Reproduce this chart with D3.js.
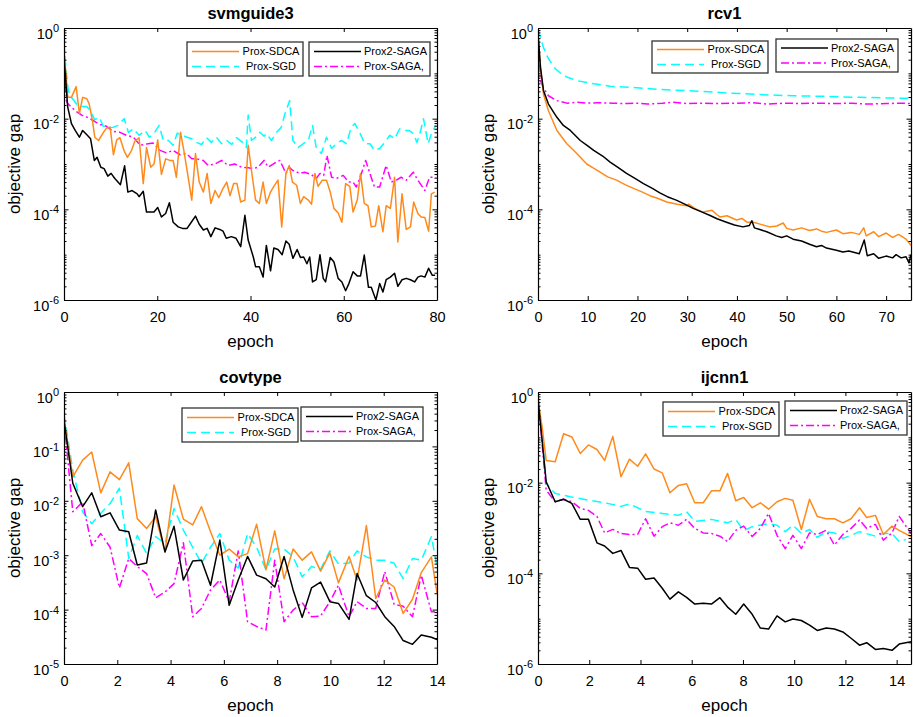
<!DOCTYPE html>
<html><head><meta charset="utf-8">
<script src="https://cdn.jsdelivr.net/npm/d3@7"></script>
<style>
body{margin:0;background:#fff;}
svg{font-family:"Liberation Sans",Arial,sans-serif;}
</style></head>
<body>
<svg id="chart" width="914" height="717"></svg>
<script>
// ---------------- DATA ----------------
const seriesNames = ["Prox-SDCA", "Prox-SGD", "Prox2-SAGA", "Prox-SAGA,"];
const panelTitles = ["svmguide3", "rcv1", "covtype", "ijcnn1"];
const xLabel = "epoch";
const yLabel = "objective gap";

// svmguide3 : [epoch, objective gap]
const svmSDCA = [[0,0.32],[0.4,0.105],[0.8,2.95e-2],[1.6,2.95e-2],[2.6,5.1e-2],[3.3,1.3e-2],[4,2.95e-2],[4.9,2.75e-2],[5.4,2.1e-2],[6.1,9.1e-3],[6.6,3.9e-3],[7.4,3.3e-3],[8.3,4.7e-3],[9.1,6.2e-3],[9.9,6.5e-3],[10.6,1.6e-3],[11.3,3.4e-3],[12,3.8e-3],[12.9,1.95e-3],[13.6,1.4e-3],[14.5,2.0e-3],[15.2,3.2e-3],[16.1,3.8e-3],[17,3.7e-4],[17.7,2.3e-3],[18.6,8.5e-4],[19.3,1.0e-3],[20.1,3.4e-3],[20.9,5.9e-4],[21.8,1.3e-3],[22.7,1.2e-3],[23.4,1.2e-3],[24.1,5.1e-4],[25,5.0e-3],[25.7,2.0e-3],[26.5,6.2e-4],[27.4,1.6e-4],[28.2,1.7e-3],[29,4.0e-4],[29.9,2.4e-4],[30.7,6.2e-4],[31.5,1.35e-4],[32.4,2.6e-4],[33.2,1.8e-4],[34,2.75e-4],[34.9,4.0e-4],[35.6,2.0e-4],[36.4,3.7e-4],[37.1,3.7e-4],[37.9,1.45e-4],[38.8,1.6e-4],[39.5,2.6e-3],[40.4,5.1e-4],[41.1,1.6e-4],[41.9,1.35e-4],[42.7,4.0e-4],[43.4,1.35e-4],[44.3,2.4e-4],[45,3.2e-4],[45.9,4.4e-4],[46.7,4.1e-5],[47.6,6.2e-4],[48.3,9.3e-4],[49,4.0e-4],[49.9,3.4e-4],[50.7,1.35e-4],[51.4,1.9e-4],[52.4,1.6e-4],[53.1,1.3e-4],[53.8,6.2e-4],[54.5,3.2e-4],[55.4,4.4e-4],[56.3,4.4e-4],[57.1,2.4e-4],[57.9,1.05e-4],[58.8,8.3e-5],[59.6,5.2e-5],[60.4,3.7e-4],[61.3,3.2e-4],[62,8.7e-5],[62.9,1.6e-4],[63.6,6.2e-4],[64.4,1.35e-4],[65.2,1.2e-4],[65.9,4.1e-5],[66.8,4.3e-5],[67.5,1.2e-4],[68.4,3.2e-5],[69.1,1.2e-4],[70,1.05e-4],[70.9,5.1e-4],[71.6,1.9e-5],[72.5,2.2e-4],[73.4,3.6e-5],[74.3,4.1e-5],[75,1.45e-4],[75.9,8.1e-5],[76.6,6.8e-5],[77.4,6.6e-5],[78.2,3.3e-5],[78.8,2.2e-4],[79.5,2.4e-4]];
const svmSGD = [[0,0.48],[0.4,0.135],[0.9,4.2e-2],[1.6,2.95e-2],[2.7,2.1e-2],[3.8,1.85e-2],[4.9,1.85e-2],[5.6,1.5e-2],[6.6,9.5e-3],[7.6,1.07e-2],[8.4,6.8e-3],[9.5,6.3e-3],[10.6,6.5e-3],[11.6,7.1e-3],[12.9,1.0e-2],[13.8,5.0e-3],[14.9,6.0e-3],[16.1,4.3e-3],[17.4,5.5e-3],[18.3,3.9e-3],[19.3,4.7e-3],[20.4,7.1e-3],[21.3,3.3e-3],[22.4,3.3e-3],[23.4,2.6e-3],[24.3,4.8e-3],[25.4,4.3e-3],[26.4,3.9e-3],[27.4,3.6e-3],[28.4,3.0e-3],[29.5,2.7e-3],[30.6,3.8e-3],[31.6,3.0e-3],[32.7,3.9e-3],[33.8,2.8e-3],[34.9,3.3e-3],[36,2.7e-3],[37,3.8e-3],[38.3,3.0e-3],[39.1,2.3e-3],[39.5,1.2e-2],[40.2,3.3e-3],[41.1,3.9e-3],[42,5.0e-3],[42.9,4.1e-3],[43.4,4.7e-3],[44.5,3.3e-3],[45.6,5.0e-3],[46.6,6.5e-3],[47.4,1.3e-2],[48.4,2.5e-2],[49.1,3.3e-3],[50.2,2.3e-3],[51.3,2.8e-3],[52.4,3.3e-3],[53.3,7.1e-3],[54.1,2.3e-3],[55.2,1.7e-3],[56.3,3.9e-3],[57.4,2.2e-3],[58.4,2.8e-3],[59.5,3.3e-3],[60.6,2.8e-3],[61.6,6.5e-3],[62.4,7.8e-3],[63.4,5.0e-3],[64.5,2.8e-3],[65.6,2.8e-3],[66.6,2.0e-3],[67.7,2.2e-3],[68.8,3.0e-3],[69.9,4.3e-3],[70.9,3.6e-3],[72,6.0e-3],[73.1,5.5e-3],[74,5.5e-3],[74.9,4.7e-3],[75.7,3.0e-3],[76.4,5.0e-3],[77.1,1.0e-2],[78.1,2.8e-3],[78.8,4.7e-3],[79.7,7.1e-3]];
const svmSAGA2 = [[0,0.22],[0.8,1.8e-2],[1.6,7.8e-3],[2.4,5.5e-3],[3.3,3.9e-3],[4,5.5e-3],[5,4.3e-3],[5.7,3.6e-3],[6.5,1.2e-3],[7.1,1.4e-3],[7.9,8.5e-4],[8.6,7.9e-4],[9.4,5.4e-4],[10.1,6.2e-4],[10.9,4.8e-4],[12.1,3.5e-4],[13,9.1e-4],[13.7,2.4e-4],[14.6,2.6e-4],[15.7,2.2e-4],[16.1,1.9e-4],[17,2.5e-4],[17.7,8.7e-5],[19.3,8.7e-5],[20.1,1.1e-4],[20.9,6.8e-5],[21.8,8.1e-5],[22.6,1.4e-4],[23.4,5.2e-5],[24.5,4.1e-5],[25.4,3.8e-5],[26.4,3.8e-5],[27.3,5.2e-5],[28.2,7.1e-5],[29,4.7e-5],[29.9,3.5e-5],[30.7,3.8e-5],[31.5,2.5e-5],[32.4,3.9e-5],[33.4,3.6e-5],[34.1,3.3e-5],[34.8,2.3e-5],[35.9,2.5e-5],[36.9,2.3e-5],[37.9,1.5e-5],[38.8,7.4e-5],[39.5,2.1e-5],[40.6,8.9e-6],[41.1,5.4e-6],[41.9,5.4e-6],[42.7,3.2e-6],[43.4,1.6e-5],[44.3,4.4e-6],[45,1.4e-5],[45.9,1.3e-5],[46.8,1.0e-5],[47.6,2.0e-5],[48.3,1.7e-5],[49.1,8.3e-6],[50,1.3e-5],[50.7,8.7e-6],[51.4,8.9e-6],[52.1,6.3e-6],[52.7,8.9e-6],[53.3,2.5e-6],[54.1,2.8e-6],[54.9,1.0e-5],[55.6,3.0e-6],[56.1,2.5e-6],[57.1,8.7e-6],[57.9,6.9e-6],[58.8,3.0e-6],[59.6,2.5e-6],[60.4,1.6e-6],[61.1,2.3e-6],[62,4.2e-6],[62.9,3.4e-6],[63.6,3.4e-6],[64.4,9.8e-6],[65.3,1.9e-6],[65.9,1.9e-6],[66.9,1.0e-6],[67.7,2.3e-6],[68.4,1.5e-6],[69.1,2.8e-6],[70,3.2e-6],[70.9,3.9e-6],[71.6,2.0e-6],[72.5,2.8e-6],[73.4,3.0e-6],[74.3,2.8e-6],[75.2,2.5e-6],[75.9,3.2e-6],[76.6,3.4e-6],[77.4,3.2e-6],[78.2,5.0e-6],[79,3.5e-6],[79.6,3.5e-6]];
const svmSAGA = [[0,0.3],[0.5,2.5e-2],[0.9,2.1e-2],[2.4,1.5e-2],[3.8,1.2e-2],[5,1.07e-2],[6.3,9.1e-3],[7.7,7.4e-3],[9.1,6.8e-3],[10.6,5.2e-3],[12,5.0e-3],[13.4,4.3e-3],[14.9,3.9e-3],[16.3,2.6e-3],[17.7,2.75e-3],[19.1,2.9e-3],[20.6,2.0e-3],[22,1.75e-3],[23.4,2.0e-3],[24.9,1.6e-3],[26.3,1.7e-3],[27.4,1.3e-3],[28.4,1.3e-3],[29.9,1.2e-3],[30.9,9.3e-4],[32.4,1.0e-3],[33.8,1.2e-3],[35.2,9.3e-4],[36.6,1.0e-3],[38.1,8.5e-4],[39.5,8.3e-4],[40.6,7.9e-4],[41.6,8.5e-4],[42.9,1.2e-3],[43.8,8.5e-4],[45.2,1.05e-3],[46.3,1.2e-3],[47.6,6.2e-4],[48.3,8.5e-4],[49.1,7.2e-4],[50.6,6.2e-4],[51.6,6.6e-4],[53,5.9e-4],[54.1,4.8e-4],[54.9,6.2e-4],[55.7,5.6e-4],[56.4,1.55e-3],[57.4,5.1e-4],[58.4,4.8e-4],[59.9,5.6e-4],[61,4.0e-4],[62,4.0e-4],[62.7,3.1e-4],[63.8,6.2e-4],[64.7,1.2e-3],[65.6,6.2e-4],[66.6,3.1e-4],[67.7,3.1e-4],[69.1,9.3e-4],[70.2,4.0e-4],[71.3,4.4e-4],[72.3,5.1e-4],[73.4,4.4e-4],[74.9,6.6e-4],[75.9,4.4e-4],[77.4,2.6e-4],[78.4,5.1e-4],[79.7,5.1e-4]];

// rcv1
const rcvSDCA = [[0,0.74],[0.5,0.135],[1.1,3.5e-2],[2.1,1.5e-2],[3.8,5.5e-3],[5.8,2.8e-3],[7.8,1.7e-3],[9.8,1.0e-3],[11,8.3e-4],[12.5,6.6e-4],[14,5.2e-4],[15.8,4.4e-4],[17.5,3.5e-4],[19.2,2.9e-4],[21,2.4e-4],[22.5,2.0e-4],[24,1.75e-4],[25.9,1.45e-4],[28,1.3e-4],[29.9,1.2e-4],[30.3,1.3e-4],[31.5,1.05e-4],[33.2,8.7e-5],[35,9.5e-5],[36,7.6e-5],[36.6,6.8e-5],[38,7.2e-5],[39.9,5.8e-5],[41,6.3e-5],[42,5.2e-5],[43.3,5.2e-5],[45,4.6e-5],[46.6,4.1e-5],[48,4.3e-5],[49.3,5.0e-5],[50,3.8e-5],[51.3,3.5e-5],[53,3.9e-5],[54.6,3.4e-5],[56,3.7e-5],[57,3.3e-5],[58,3.1e-5],[60,3.5e-5],[61.3,2.9e-5],[63,3.1e-5],[64.6,2.8e-5],[65.5,3.9e-5],[66,2.6e-5],[67.5,3.2e-5],[68.5,2.5e-5],[70,3.0e-5],[71.3,2.4e-5],[72.5,2.8e-5],[74,2.2e-5],[75,1.6e-5]];
const rcvSGD = [[0,0.95],[1.1,0.37],[2.1,0.21],[3.5,0.126],[5.1,8.9e-2],[7.8,6.9e-2],[11.2,5.9e-2],[14.5,5.2e-2],[19.9,4.8e-2],[24.5,4.4e-2],[31.2,4.1e-2],[37.9,3.7e-2],[44.6,3.4e-2],[51.3,3.2e-2],[58,3.1e-2],[64.6,2.95e-2],[75,2.8e-2]];
const rcvSAGA2 = [[0,0.74],[0.5,0.135],[1.1,4.2e-2],[2.1,2.1e-2],[3.8,1.07e-2],[5.1,7.1e-3],[6.5,5.5e-3],[8.5,3.3e-3],[10,2.5e-3],[11.2,2.0e-3],[13,1.5e-3],[14.5,1.1e-3],[16,8.5e-4],[17.8,6.2e-4],[19.5,4.8e-4],[21.2,3.7e-4],[23,2.9e-4],[24.5,2.3e-4],[26,1.9e-4],[27.8,1.6e-4],[29.5,1.3e-4],[31.2,1.05e-4],[33,8.7e-5],[34.5,7.4e-5],[36,6.2e-5],[37.9,5.2e-5],[39.5,4.5e-5],[41.2,4.1e-5],[42.5,4.4e-5],[43,5.6e-5],[43.5,3.9e-5],[44.6,3.6e-5],[46,3.2e-5],[47.9,2.6e-5],[49,2.4e-5],[50,2.6e-5],[51.3,2.2e-5],[53,2.0e-5],[54.6,1.7e-5],[56,1.5e-5],[57,1.6e-5],[58,1.4e-5],[60,1.25e-5],[61.3,1.15e-5],[62.5,1.2e-5],[64.6,1.05e-5],[65.6,2.1e-5],[66.2,9.5e-6],[67.5,1.05e-5],[68.5,8.3e-6],[70,9.3e-6],[71.3,8.5e-6],[72,1.0e-5],[73,8.5e-6],[74,9.0e-6],[74.6,6.6e-6],[75,1.0e-5]];
const rcvSAGA = [[0,0.8],[0.5,6.9e-2],[1.1,4.8e-2],[2.1,3.2e-2],[3.8,2.5e-2],[5.8,2.2e-2],[7.8,2.3e-2],[10,2.2e-2],[12,2.25e-2],[15,2.2e-2],[18,2.15e-2],[20,2.2e-2],[22,2.1e-2],[25,2.2e-2],[27,2.3e-2],[30,2.15e-2],[33,2.2e-2],[36,2.15e-2],[40,2.2e-2],[43,2.25e-2],[46,2.1e-2],[50,2.2e-2],[53,2.15e-2],[56,2.2e-2],[60,2.15e-2],[63,2.2e-2],[66,2.1e-2],[70,2.15e-2],[73,2.2e-2],[75,2.15e-2]];

// covtype
const covSDCA = [[0,0.32],[0.33,2.75e-2],[0.7,5.6e-2],[1.04,7.9e-2],[1.38,1.4e-2],[1.73,3.4e-2],[2.08,2.45e-2],[2.43,5.0e-2],[2.75,4.7e-3],[3.1,3.1e-3],[3.44,5.1e-3],[3.79,1.15e-3],[4.13,1.95e-2],[4.48,4.6e-3],[4.83,3.6e-3],[5.16,7.8e-3],[5.5,2.7e-3],[5.85,1.0e-3],[6.2,1.3e-3],[6.54,9.3e-4],[6.89,1.07e-3],[7.23,3.7e-3],[7.58,5.4e-4],[7.91,2.8e-3],[8.26,3.7e-4],[8.6,1.3e-3],[8.94,8.1e-4],[9.29,1.15e-3],[9.63,5.1e-4],[9.98,1.1e-3],[10.3,3.1e-4],[10.7,9.5e-4],[11,3.5e-4],[11.35,3.5e-3],[11.7,1.6e-4],[12.04,3.5e-4],[12.39,2.6e-4],[12.73,8.5e-5],[13.08,1.55e-4],[13.41,4.8e-4],[13.79,9.3e-4],[14,2.0e-4]];
const covSGD = [[0,0.4],[0.33,3.6e-2],[0.7,6.3e-3],[1.04,3.8e-3],[1.38,5.9e-3],[1.73,8.9e-3],[2.08,1.7e-2],[2.43,8.7e-4],[2.75,2.3e-3],[3.1,1.07e-3],[3.44,2.2e-3],[3.79,1.65e-3],[4.13,7.2e-3],[4.48,2.9e-3],[4.83,1.4e-3],[5.16,7.1e-4],[5.5,1.4e-3],[5.85,2.5e-3],[6.2,8.1e-4],[6.54,5.8e-4],[6.89,2.5e-3],[7.23,1.4e-3],[7.58,5.4e-4],[7.91,1.3e-3],[8.26,1.3e-3],[8.6,9.3e-4],[8.94,4.0e-4],[9.29,6.2e-4],[9.63,5.5e-4],[9.98,1.2e-3],[10.3,6.9e-4],[10.7,7.2e-4],[11,1.2e-3],[11.35,9.3e-4],[11.7,8.1e-4],[12.04,8.1e-4],[12.39,7.1e-4],[12.73,3.7e-4],[13.08,8.7e-4],[13.41,8.1e-4],[13.79,2.2e-3],[14,6.2e-4]];
const covSAGA2 = [[0,0.3],[0.33,2.1e-2],[0.7,7.8e-3],[1.04,1.4e-2],[1.38,5.1e-3],[1.73,6.0e-3],[2.08,2.9e-3],[2.43,2.7e-3],[2.75,6.6e-4],[3.1,7.2e-4],[3.44,6.8e-3],[3.79,1.15e-3],[4.13,3.4e-3],[4.48,3.5e-4],[4.83,7.8e-4],[5.16,8.1e-4],[5.5,2.8e-4],[5.85,1.9e-3],[6.2,1.2e-4],[6.54,3.5e-4],[6.89,9.5e-4],[7.23,4.3e-4],[7.58,3.7e-4],[7.91,2.6e-4],[8.26,9.5e-4],[8.6,2.3e-4],[8.94,7.2e-5],[9.29,2.5e-4],[9.63,3.2e-4],[9.98,1.4e-4],[10.3,1.3e-4],[10.7,6.6e-5],[11,4.6e-4],[11.35,1.8e-4],[11.7,1.35e-4],[12.04,7.4e-5],[12.39,4.9e-5],[12.73,2.7e-5],[13.08,2.3e-5],[13.41,3.4e-5],[13.79,3.1e-5],[14,2.8e-5]];
const covSAGA = [[0,0.3],[0.33,6.3e-3],[0.7,9.5e-3],[1.04,1.5e-3],[1.38,2.5e-3],[1.73,1.4e-3],[2.08,2.5e-4],[2.43,8.7e-4],[2.75,6.2e-4],[3.1,4.6e-4],[3.44,1.65e-4],[3.79,2.1e-4],[4.13,3.0e-4],[4.48,1.7e-3],[4.83,7.4e-5],[5.16,1.05e-4],[5.5,2.3e-4],[5.85,3.5e-4],[6.2,1.4e-4],[6.54,1.2e-3],[6.89,6.0e-5],[7.23,4.9e-5],[7.58,4.2e-5],[7.91,8.1e-4],[8.26,6.0e-5],[8.6,9.8e-5],[8.94,1.35e-4],[9.29,7.4e-5],[9.63,7.6e-5],[9.98,1.4e-4],[10.3,2.8e-4],[10.7,7.4e-5],[11,1.4e-4],[11.35,1.05e-4],[11.7,1.05e-4],[12.04,5.0e-4],[12.39,1.25e-4],[12.73,1.15e-4],[13.08,7.4e-5],[13.41,4.3e-4],[13.79,9.1e-5],[14,9.1e-5]];

// ijcnn1
const ijcSDCA = [[0,0.66],[0.16,0.17],[0.32,3.1e-2],[0.67,2.9e-2],[1.0,0.12],[1.32,0.102],[1.65,4.4e-2],[1.97,6.8e-2],[2.3,5.4e-2],[2.6,3.1e-2],[2.92,0.105],[3.24,1.35e-2],[3.57,3.3e-2],[3.89,2.3e-2],[4.2,4.3e-2],[4.53,2.0e-2],[4.85,1.65e-2],[5.15,6.0e-3],[5.48,8.7e-3],[5.8,9.5e-3],[6.12,3.6e-3],[6.45,3.6e-3],[6.77,6.6e-3],[7.1,6.6e-3],[7.4,1.6e-2],[7.72,4.0e-3],[8.03,4.7e-3],[8.36,2.8e-3],[8.68,3.6e-3],[9.0,2.6e-3],[9.33,3.8e-3],[9.65,4.5e-3],[9.95,4.1e-3],[10.28,9.3e-4],[10.6,4.3e-3],[10.9,1.8e-3],[11.25,1.6e-3],[11.57,1.6e-3],[11.9,1.3e-3],[12.22,1.6e-3],[12.55,2.8e-3],[12.83,1.7e-3],[13.17,1.9e-3],[13.48,7.2e-4],[13.82,1.1e-3],[14.1,8.9e-4],[14.56,6.5e-4]];
const ijcSGD = [[0,0.85],[0.16,0.102],[0.32,9.5e-3],[0.67,5.8e-3],[1.26,4.9e-3],[1.97,4.1e-3],[2.6,3.6e-3],[3.24,3.0e-3],[3.57,3.4e-3],[4.2,2.3e-3],[4.85,2.1e-3],[5.48,1.9e-3],[5.8,2.3e-3],[6.12,1.4e-3],[6.77,1.55e-3],[7.4,1.3e-3],[7.72,1.55e-3],[8.03,8.7e-4],[8.36,1.07e-3],[9.0,1.25e-3],[9.33,1.15e-3],[9.65,8.3e-4],[9.95,1.15e-3],[10.28,7.6e-4],[10.6,9.3e-4],[10.9,6.2e-4],[11.25,8.3e-4],[11.57,7.8e-4],[11.9,5.9e-4],[12.22,6.9e-4],[12.55,8.3e-4],[13.17,6.6e-4],[13.48,7.6e-4],[13.82,7.6e-4],[14.1,5.0e-4],[14.36,5.6e-4]];
const ijcSAGA2 = [[0,0.66],[0.16,8.7e-2],[0.32,1.05e-2],[0.67,3.8e-3],[1.0,4.3e-3],[1.32,3.5e-3],[1.65,1.55e-3],[1.97,1.55e-3],[2.3,4.7e-4],[2.6,4.0e-4],[2.92,2.75e-4],[3.24,3.2e-4],[3.57,1.35e-4],[3.89,1.3e-4],[4.2,7.4e-5],[4.53,7.9e-5],[4.85,4.7e-5],[5.15,2.7e-5],[5.48,3.9e-5],[5.8,2.95e-5],[6.12,2.1e-5],[6.45,2.2e-5],[6.77,2.1e-5],[7.1,2.9e-5],[7.4,1.8e-5],[7.72,1.25e-5],[8.03,2.1e-5],[8.36,1.25e-5],[8.68,6.2e-6],[9.0,5.9e-6],[9.33,1.15e-5],[9.65,8.5e-6],[9.95,9.8e-6],[10.28,9.1e-6],[10.6,7.2e-6],[10.9,5.5e-6],[11.25,6.2e-6],[11.57,5.9e-6],[11.9,5.1e-6],[12.22,3.7e-6],[12.55,2.6e-6],[12.83,2.95e-6],[13.17,2.1e-6],[13.48,2.2e-6],[13.82,2.0e-6],[14.1,2.75e-6],[14.56,3.1e-6]];
const ijcSAGA = [[0,0.78],[0.16,7.2e-2],[0.32,6.8e-3],[0.67,3.8e-3],[1.0,4.3e-3],[1.32,3.8e-3],[1.65,2.7e-3],[1.97,2.45e-3],[2.3,1.8e-3],[2.6,7.8e-4],[2.92,9.3e-4],[3.24,7.6e-4],[3.57,7.2e-4],[3.89,7.2e-4],[4.2,1.6e-3],[4.53,6.6e-4],[4.85,1.07e-3],[5.15,1.3e-3],[5.48,1.15e-3],[5.8,1.55e-3],[6.12,9.8e-4],[6.45,7.8e-4],[6.77,7.6e-4],[7.1,6.6e-4],[7.4,5.0e-4],[7.72,8.9e-4],[8.03,1.1e-3],[8.36,6.5e-4],[8.68,9.8e-4],[9.0,2.1e-3],[9.33,6.9e-4],[9.65,3.5e-4],[9.95,6.9e-4],[10.28,3.5e-4],[10.6,7.8e-4],[10.9,7.2e-4],[11.25,8.9e-4],[11.57,4.2e-4],[11.9,7.2e-4],[12.22,9.8e-4],[12.55,1.5e-3],[12.83,9.8e-4],[13.17,1.2e-3],[13.48,5.4e-4],[13.82,7.8e-4],[14.1,1.8e-3],[14.56,7.6e-4]];

// axis tick values
const xTicks1 = [0, 20, 40, 60, 80];
const xTicks2 = [0, 10, 20, 30, 40, 50, 60, 70];
const xTicks3 = [0, 2, 4, 6, 8, 10, 12, 14];
const xTicks4 = [0, 2, 4, 6, 8, 10, 12, 14];
const yExps1 = [0, -2, -4, -6];
const yExps2 = [0, -2, -4, -6];
const yExps3 = [0, -1, -2, -3, -4, -5];
const yExps4 = [0, -2, -4, -6];

// ---------------- LAYOUT / STYLE ----------------
const colors = ["#FF8A1C", "#00FFFF", "#000000", "#FF00FF"];
const dashes = [null, "9,5", null, "8,3,2,3"];

const panels = [
  {title: panelTitles[0], data: [svmSDCA, svmSGD, svmSAGA2, svmSAGA], x: 64, y: 28, xMax: 80, yMinExp: -6, xTicks: xTicks1, yExps: yExps1,
   leg: [{x: 123, y: 14, w: 116, h: 34}, {x: 245, y: 14, w: 121, h: 34}]},
  {title: panelTitles[1], data: [rcvSDCA, rcvSGD, rcvSAGA2, rcvSAGA], x: 538, y: 28, xMax: 75, yMinExp: -6, xTicks: xTicks2, yExps: yExps2,
   leg: [{x: 114, y: 13, w: 116, h: 32}, {x: 238, y: 11, w: 122, h: 33}]},
  {title: panelTitles[2], data: [covSDCA, covSGD, covSAGA2, covSAGA], x: 64, y: 392, xMax: 14, yMinExp: -5, xTicks: xTicks3, yExps: yExps3,
   leg: [{x: 118, y: 16, w: 116, h: 34}, {x: 237, y: 15, w: 122, h: 34}]},
  {title: panelTitles[3], data: [ijcSDCA, ijcSGD, ijcSAGA2, ijcSAGA], x: 538, y: 392, xMax: 14.56, yMinExp: -6, xTicks: xTicks4, yExps: yExps4,
   leg: [{x: 125, y: 10, w: 116, h: 34}, {x: 247, y: 9, w: 122, h: 34}]}
];
const W = 373, H = 272;

const svg = d3.select("#chart");
svg.append("rect").attr("width", 914).attr("height", 717).attr("fill", "#fff");

panels.forEach((p, pi) => {
  const g = svg.append("g").attr("transform", `translate(${p.x},${p.y})`);
  const x = d3.scaleLinear().domain([0, p.xMax]).range([0, W]);
  const y = d3.scaleLog().domain([Math.pow(10, p.yMinExp), 1]).range([H, 0]);

  // minor ticks on log axis
  const minor = [];
  for (let e = p.yMinExp; e < 0; e++) {
    for (let k = 1; k <= 9; k++) {
      const v = k * Math.pow(10, e);
      if (k === 1 && p.yExps.includes(e)) continue;
      minor.push(v);
    }
  }
  const majors = p.yExps.map(e => Math.pow(10, e));

  const clipId = "clip" + pi;
  g.append("clipPath").attr("id", clipId).append("rect").attr("width", W).attr("height", H);

  // lines
  const line = d3.line().x(d => x(d[0])).y(d => y(d[1]));
  const order = [1, 3, 0, 2];
  order.forEach(si => {
    g.append("path").datum(p.data[si])
      .attr("clip-path", `url(#${clipId})`)
      .attr("fill", "none").attr("stroke", colors[si]).attr("stroke-width", 1.5)
      .attr("stroke-dasharray", dashes[si]).attr("stroke-linejoin", "round")
      .attr("d", line);
  });

  // axes
  const axStyle = sel => { sel.selectAll("path,line").attr("stroke", "#000"); sel.select(".domain").attr("stroke-width", 1.2); };

  // minor y ticks left & right
  g.append("g").call(d3.axisLeft(y).tickValues(minor).tickSize(-2.5).tickSizeOuter(0).tickFormat(""))
    .call(axStyle).call(s => s.select(".domain").remove());
  g.append("g").attr("transform", `translate(${W},0)`)
    .call(d3.axisRight(y).tickValues(minor).tickSize(-2.5).tickSizeOuter(0).tickFormat(""))
    .call(axStyle).call(s => s.select(".domain").remove());

  // major y left with labels
  const yl = g.append("g").call(d3.axisLeft(y).tickValues(majors).tickSize(-4.5).tickSizeOuter(0).tickPadding(5).tickFormat(""))
    .call(axStyle);
  yl.selectAll(".tick text").each(function(d) {
    const t = d3.select(this);
    const ex = Math.round(Math.log10(d));
    t.attr("dy", "0.7em").attr("font-size", 14.5).attr("fill", "#000")
      .attr("font-family", '"Liberation Sans",Arial,sans-serif');
    t.text(null);
    t.append("tspan").text("10");
    t.append("tspan").attr("dy", -6.5).attr("font-size", 11).text(ex);
  });
  g.append("g").attr("transform", `translate(${W},0)`)
    .call(d3.axisRight(y).tickValues(majors).tickSize(-4.5).tickSizeOuter(0).tickFormat(""))
    .call(axStyle);

  // x axes
  g.append("g").attr("transform", `translate(0,${H})`)
    .call(d3.axisBottom(x).tickValues(p.xTicks).tickSize(-4).tickSizeOuter(0).tickPadding(12))
    .call(axStyle)
    .call(s => s.selectAll("text").attr("font-size", 14.5).attr("fill", "#000")
      .attr("font-family", '"Liberation Sans",Arial,sans-serif'));
  g.append("g")
    .call(d3.axisTop(x).tickValues(p.xTicks).tickSize(-4).tickSizeOuter(0).tickFormat(""))
    .call(axStyle);

  // title & labels
  g.append("text").attr("x", W / 2).attr("y", -9).attr("text-anchor", "middle")
    .attr("font-size", 16.5).attr("font-weight", "bold").text(p.title);
  g.append("text").attr("x", W / 2).attr("y", H + 47).attr("text-anchor", "middle")
    .attr("font-size", 17).text(xLabel);
  g.append("text").attr("transform", `translate(-44,${H / 2}) rotate(-90)`).attr("text-anchor", "middle")
    .attr("font-size", 17).text(yLabel);

  // legends
  const legRows = [[0, 1], [2, 3]];
  p.leg.forEach((b, bi) => {
    const lg = g.append("g").attr("transform", `translate(${b.x},${b.y})`);
    lg.append("rect").attr("width", b.w).attr("height", b.h).attr("fill", "#fff")
      .attr("stroke", "#333").attr("stroke-width", 1.3);
    legRows[bi].forEach((si, ri) => {
      const cy = b.h / 2 + (ri === 0 ? -7.5 : 7.5);
      lg.append("line").attr("x1", 5).attr("x2", 52).attr("y1", cy).attr("y2", cy)
        .attr("stroke", colors[si]).attr("stroke-width", 1.5).attr("stroke-dasharray", dashes[si]);
      const t = lg.append("text").attr("y", cy).attr("dy", "0.35em").attr("font-size", 11).text(seriesNames[si]);
      if (bi === 0) t.attr("x", 84).attr("text-anchor", "middle");
      else t.attr("x", 55);
    });
  });
});
</script>
</body></html>
